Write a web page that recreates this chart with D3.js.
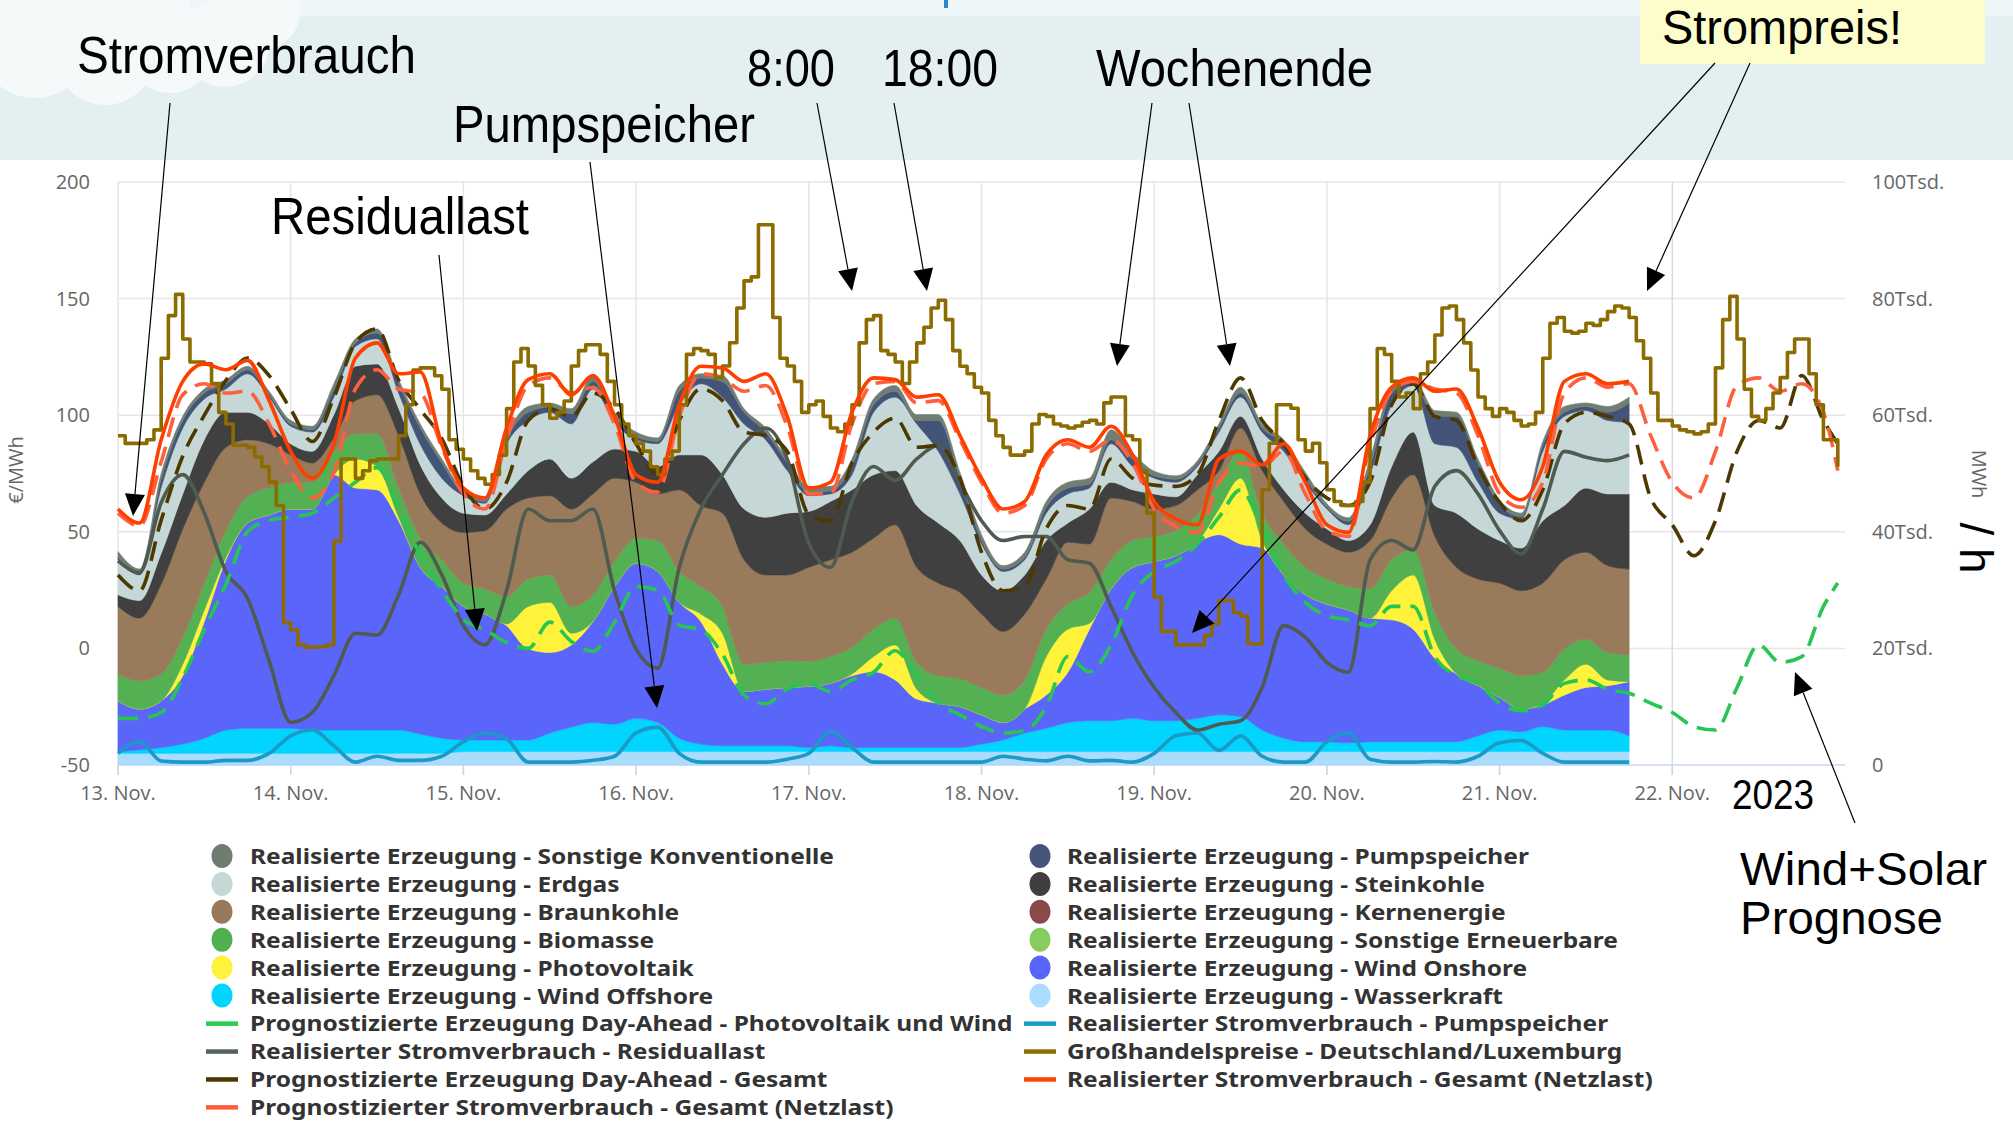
<!DOCTYPE html>
<html><head><meta charset="utf-8">
<script src="https://cdn.jsdelivr.net/npm/d3@7"></script>
<style>html,body{margin:0;padding:0;background:#fff}svg{display:block}</style>
</head><body>
<svg id="c" width="2013" height="1122"></svg>
<script>
// ---------------- DATA (GW = Tsd. MWh/h, price in €/MWh) ----------------
const dayLabels = ["13. Nov.","14. Nov.","15. Nov.","16. Nov.","17. Nov.","18. Nov.","19. Nov.","20. Nov.","21. Nov.","22. Nov."];
const leftTicks = [-50,0,50,100,150,200];
const rightTicks = [0,20,40,60,80,100];

// realised generation, every 3 h from 13 Nov 00:00 to 21 Nov 18:00
const wasserkraft = [2.0,2.0,2.0,2.0,2.0,2.0,2.0,2.0, 2.0,2.0,2.0,2.0,2.0,2.0,2.0,2.0, 2.3,2.3,2.3,2.3,2.3,2.3,2.3,2.3, 2.3,2.3,2.3,2.3,2.3,2.3,2.3,2.3, 2.3,2.3,2.3,2.3,2.3,2.3,2.3,2.3, 2.3,2.3,2.3,2.3,2.3,2.3,2.3,2.3, 2.3,2.3,2.3,2.3,2.3,2.3,2.3,2.3, 2.3,2.3,2.3,2.3,2.3,2.3,2.3,2.3, 2.3,2.3,2.3,2.3,2.3,2.3,2.3];
const windOffshore = [0.3,0.6,1.0,1.6,2.6,4.0,4.3,4.3, 4.3,4.0,4.0,4.0,4.0,4.0,3.3,2.6, 2.0,2.0,2.0,2.0,3.2,4.2,5.0,4.7, 5.7,5.0,2.3,1.3,1.0,1.0,1.0,1.0, 0.7,1.0,0.7,0.7,0.7,0.7,0.7,0.7, 1.3,2.0,3.2,4.0,5.0,5.3,5.3,5.7, 5.3,5.3,5.7,6.3,6.0,3.7,2.3,1.7, 1.7,1.5,1.7,1.7,1.7,1.7,1.7,2.7, 3.7,3.4,4.3,3.7,3.7,3.7,2.7];
const windOnshore = [8.7,7.0,8.0,11.7,20.0,29.2,35.2,36.6, 37.6,37.9,43.8,41.5,41.2,35.9,28.6,26.0, 22.9,21.6,19.6,15.6,13.8,14.1,17.3,23.6, 26.6,25.9,23.3,21.0,14.0,9.3,9.7,10.0, 10.5,10.7,12.3,13.0,11.6,8.3,7.6,7.0, 5.0,3.0,4.1,5.7,8.6,15.7,22.6,25.9, 27.3,28.3,30.2,30.9,29.6,31.2,28.0,25.2, 23.6,22.8,21.2,20.9,19.3,14.3,11.6,8.6, 5.6,3.9,3.7,6.0,7.3,7.6,9.3];
const photovoltaik = [0,0,0,2.0,2.0,0.4,0,0, 0,0,0,5.0,4.0,0.6,0,0, 0,0,0.3,7.3,8.6,2.0,0,0, 0,0,0,1.3,5.3,0,0,0, 0,0,0.3,2.6,6.0,1.7,0,0, 0,0,0,6.6,7.4,1.0,0,0, 0,0,0,4.4,11.3,1.3,0,0, 0,0,0,5.0,9.3,3.2,0,0, 0,0,0.3,2.6,4.0,1.0,0];
const biomasse = [4.6,4.8,4.6,4.6,4.6,4.6,4.6,4.6, 4.6,4.6,4.0,4.3,5.6,5.0,5.0,4.6, 4.0,4.3,4.7,4.7,4.7,4.6,4.6,4.3, 4.3,5.3,5.3,4.7,4.6,4.7,4.6,4.6, 4.3,4.6,4.6,4.7,4.6,4.6,4.7,4.8, 4.7,4.7,5.0,4.7,4.3,5.3,5.0,4.6, 4.3,4.3,4.7,4.6,4.6,4.7,5.3,4.7, 4.3,4.0,5.0,5.3,4.3,4.7,4.3,4.3, 5.0,5.7,5.3,5.3,4.3,4.7,4.6];
const braunkohle = [11.6,10.8,15.4,18.6,17.3,14.3,9.7,7.6, 4.7,3.3,2.3,5.7,6.7,9.0,7.6,6.3, 8.7,10.0,15.0,13.9,13.6,16.7,17.3,14.3, 9.6,8.0,14.0,13.9,16.0,17.9,15.0,14.7, 16.1,16.6,16.3,15.6,16.0,16.3,15.9,14.8, 12.6,10.9,11.3,8.6,10.6,8.3,10.6,6.7, 4.7,4.3,4.3,2.0,4.0,7.3,7.3,6.6, 6.0,5.9,8.3,10.6,12.9,13.0,14.0,14.0, 14.6,14.6,15.3,15.3,14.9,14.9,14.7];
const steinkohle = [2.0,3.0,5.3,6.0,7.3,6.0,4.7,3.4, 1.9,2.0,4.0,5.9,5.3,4.7,5.0,4.3, 3.3,2.7,2.6,4.7,6.3,5.3,5.5,5.0, 5.3,4.7,6.0,8.7,6.6,8.7,9.9,10.6, 9.6,10.0,10.7,10.9,9.3,10.6,10.3,8.9, 6.7,7.0,6.7,6.6,3.3,6.0,2.7,2.0, 2.6,1.5,2.6,3.3,2.0,2.0,2.0,2.7, 2.6,2.0,2.7,5.4,7.3,5.3,9.3,8.6, 7.3,7.3,10.7,9.3,11.0,12.3,12.9];
const erdgas = [6.0,4.4,11.3,11.3,7.0,4.0,6.6,4.6, 3.0,3.3,3.0,3.4,4.3,2.6,3.5,3.4, 3.0,2.0,8.6,8.6,8.0,9.3,12.5,4.6, 2.0,3.9,8.6,12.2,13.3,14.6,13.3,7.3, 2.7,1.3,2.6,10.7,12.6,14.0,12.3,8.0, 5.3,3.3,2.6,4.7,5.0,3.6,6.6,4.0, 2.7,2.5,1.4,3.3,3.3,4.6,6.6,5.3, 3.4,2.7,8.6,10.6,8.0,10.6,11.3,8.0, 4.7,5.0,11.9,15.3,13.3,12.6,12.3];
const pumpspeicher = [0.4,0.4,1.4,1.3,1.0,0.9,0.7,0.4, 0.4,0.4,1.3,0.6,1.0,1.6,2.8,2.6, 0.3,0.3,0.7,1.4,0.9,1.7,1.3,1.0, 0.5,0.4,2.3,1.0,2.7,2.0,1.3,1.3, 0.6,0.5,1.4,1.3,1.0,0.6,5.3,2.7, 0.6,0.4,0.4,1.0,1.0,0.7,0.7,1.3, 0.4,0.5,0.4,0.7,0.7,0.7,1.3,0.7, 0.3,0.6,1.4,2.0,0.7,4.7,5.3,3.3, 1.4,0.4,1.0,0.7,0.7,1.4,3.3];
const sonstigeKonv = [1.0,0.6,1.0,0.7,0.7,0.7,0.6,0.6, 0.6,0.6,1.0,0.7,0.7,0.7,0.7,0.7, 0.7,0.6,0.7,1.0,0.7,0.9,1.0,0.7, 0.8,0.6,1.0,0.7,1.0,0.6,0.7,0.7, 1.0,0.8,1.3,1.0,1.0,1.0,1.0,1.0, 1.0,0.6,0.9,1.0,1.0,1.0,1.7,1.0, 0.8,0.6,0.6,0.7,1.0,0.7,0.7,1.0, 0.6,0.6,1.3,1.0,0.6,1.0,0.7,0.7, 0.9,0.6,0.7,1.0,0.6,1.0,1.0];

// realised consumption lines (same 3 h grid)
const netzlastReal = [43.9,41.5,55.8,65.8,68.8,67.8,69.4,62.5, 53.8,49.2,55.1,69.8,72.4,67.1,67.4,55.0, 47.5,45.8,57.8,66.1,67.1,63.5,66.8,59.8, 49.8,48.5,61.8,68.4,68.1,65.8,67.1,59.8, 47.5,48.5,60.5,66.4,66.1,63.1,63.5,56.5, 49.2,43.9,45.2,53.2,55.8,54.5,58.1,53.2, 45.2,42.2,41.2,52.5,53.8,51.5,55.1,48.5, 41.2,39.9,56.5,64.8,66.4,64.1,64.5,57.8, 48.5,45.5,51.2,65.8,67.1,65.4,65.8];
const residuallast = [35.0,33.0,45.0,49.8,43.2,33.2,28.6,17.9, 7.3,9.0,15.3,22.6,22.3,29.2,38.2,32.6, 23.9,20.6,29.9,43.9,41.9,41.9,43.9,29.9, 19.9,16.6,33.9,43.9,49.8,55.1,57.8,52.5, 38.0,33.9,45.2,51.2,48.8,52.5,54.8,48.5, 41.9,38.5,39.2,39.2,35.2,34.6,27.2,19.3, 13.3,9.0,6.0,7.0,7.6,13.3,23.9,21.9, 17.6,15.9,35.2,38.5,36.9,47.8,50.5,46.5, 40.2,36.2,43.9,53.8,52.8,52.2,53.2];
const pumpVerbrauch = [2.0,4.0,0.7,0.5,0.5,0.8,0.8,2.0, 5.0,6.0,3.3,0.5,1.5,0.8,0.8,1.5, 4.0,5.5,4.5,0.5,0.5,0.5,0.8,1.5, 5.5,6.5,2.0,0.5,0.5,0.5,0.5,1.0, 2.0,5.8,3.0,0.5,0.5,0.5,0.5,0.5, 0.5,1.5,1.0,0.7,1.5,0.7,0.8,0.5, 2.0,5.0,5.5,2.5,5.0,1.5,0.5,0.5, 4.0,5.5,1.0,0.5,0.5,0.6,0.5,1.5, 3.8,4.2,2.0,0.5,0.5,0.5,0.5];

// day-ahead forecasts, every 3 h up to 22 Nov 21:00 plus 23:00
const netzlastPrognose = [43.2,41.0,52.0,63.5,65.4,63.8,64.1,58.5, 50.5,45.8,50.2,64.5,67.8,64.5,63.8,54.5, 46.5,43.9,55.8,65.1,66.4,63.8,64.8,58.5, 48.5,46.8,59.8,67.1,66.4,64.1,65.1,58.1, 46.5,46.5,58.5,65.4,65.8,62.1,62.5,55.8, 48.5,43.2,44.5,52.5,55.1,53.8,55.8,51.8, 43.9,40.9,39.9,48.5,51.8,51.2,53.8,46.5, 40.2,39.2,54.8,64.1,65.8,64.5,63.8,56.5, 46.5,44.2,48.5,63.8,66.4,64.8,65.4,56.5, 48.5,45.8,53.8,65.1,66.4,64.1,65.4,60.5, 50.5];
const erzeugungPrognose = [32.6,29.9,42.0,53.0,60.0,66.0,69.8,66.8, 61.0,55.5,63.0,72.4,74.8,66.0,61.0,56.0, 47.8,43.9,48.5,59.1,61.1,59.8,63.8,61.1, 55.1,49.8,59.1,64.5,62.5,57.1,56.5,53.8, 43.0,41.9,51.8,57.1,59.5,54.5,54.8,49.2, 36.5,29.9,30.6,40.5,44.5,43.9,52.5,49.2, 48.0,47.8,49.8,59.1,66.4,59.1,55.1,49.2, 45.8,44.5,48.5,61.8,65.4,59.8,59.1,51.2, 45.0,41.9,47.2,58.5,60.5,59.8,58.5,45.8, 41.2,35.9,41.9,53.8,59.1,57.8,66.8,59.1, 55.1];
const pvWindPrognose = [8.0,8.0,9.0,15.0,23.3,31.0,40.0,42.0, 42.5,43.2,45.8,48.5,51.0,44.0,36.0,30.0, 25.0,23.2,21.0,20.0,24.5,21.2,19.5,24.5, 30.6,30.0,24.0,23.2,19.0,12.0,10.5,13.0, 14.0,12.6,14.6,15.9,19.6,15.3,10.6,8.6, 6.6,5.5,5.9,10.0,18.6,16.0,20.6,29.2, 33.2,34.9,37.9,42.5,47.2,40.5,32.6,27.9, 25.6,24.9,23.9,27.2,27.2,18.6,15.3,14.0, 10.6,9.3,10.3,14.0,14.6,13.0,12.3,10.6, 9.0,6.6,6.0,13.3,20.6,17.6,18.6,27.2, 31.2];

// wholesale price DE/LU, hourly from 13 Nov 00:00 to 22 Nov 23:00
const preis = [
 91.2,87.9,87.9,87.9,89.5,93.7,124.4,142.7,151.8,132.7,122.8,122.8,122.0,113.6,101.2,96.2,87.1,87.1,86.2,82.1,77.9,71.3,61.3,11.0,
 8.0,1.5,0.5,0.5,0.8,1.5,46.0,81.2,81.2,72.9,76.2,80.4,81.2,81.2,81.2,91.2,104.5,119.4,120.3,120.3,116.9,111.1,89.5,85.4,
 81.2,76.2,72.9,70.4,74.6,82.9,102.8,122.8,128.6,121.1,112.8,104.5,98.7,101.2,106.1,121.1,127.7,130.2,130.2,126.1,114.5,104.5,96.2,91.2,
 87.9,84.6,77.9,74.6,81.2,84.6,104.5,126.1,128.6,127.7,126.1,116.1,121.1,131.1,146.0,157.6,159.3,181.7,181.7,141.9,124.4,121.1,114.5,101.2,
 104.5,106.1,99.5,94.5,92.9,96.2,104.5,131.0,141.0,142.7,127.7,126.1,122.8,113.6,122.8,131.0,137.7,146.0,149.3,141.0,127.7,121.0,117.8,112.0,
 109.5,97.8,91.2,86.2,82.9,82.9,84.6,96.2,100.3,99.5,96.2,95.4,94.5,95.4,97.0,97.8,96.2,105.3,107.8,107.8,91.2,89.5,76.2,58.0,
 22.0,7.3,7.3,1.5,1.5,1.5,1.5,5.6,10.6,20.5,20.5,15.4,13.8,2.0,2.0,68.0,88.0,104.5,104.5,103.0,89.5,84.6,88.0,79.6,
 68.0,63.0,61.3,61.3,63.0,71.3,102.8,128.6,126.0,114.5,107.8,109.5,102.8,117.8,122.8,134.4,146.0,146.8,141.0,131.0,119.4,107.8,102.8,99.5,
 102.8,101.2,97.8,95.4,96.2,101.2,124.4,139.4,141.9,136.0,135.2,136.0,139.4,138.5,141.0,144.4,146.8,146.0,141.9,131.9,124.4,109.5,97.8,97.8,
 95.4,93.7,92.9,92.0,92.9,96.2,120.3,141.0,151.0,132.7,111.1,99.5,97.8,102.8,109.5,116.1,126.9,132.7,132.7,117.8,104.5,89.5,89.5,77.9
];

const hoursStack = d3.range(0, 211, 3);
const hoursForecast = d3.range(0, 238, 3).concat([239]);
const hoursPrice = d3.range(0, 240);

// ---------------- SETUP ----------------
const svg = d3.select("#c");
const W = 2013, H = 1122;
const x = d3.scaleLinear().domain([0, 240]).range([118, 1845]);
const yL = d3.scaleLinear().domain([-50, 200]).range([765, 182]);
const yR = d3.scaleLinear().domain([0, 100]).range([765, 182]);
const tickFont = "'Open Sans', 'DejaVu Sans', sans-serif";
const noteFont = "'Liberation Sans Narrow', 'Liberation Sans', Arial, sans-serif";

// background
svg.append("rect").attr("width", W).attr("height", H).attr("fill", "#ffffff");
svg.append("rect").attr("width", W).attr("height", 160).attr("fill", "#e4eff1");
svg.append("rect").attr("width", W).attr("height", 16).attr("fill", "#eef6f7");
const cloud = svg.append("g").attr("fill", "#f6f9fa");
[[35,40,58],[105,55,50],[170,48,45],[225,42,45],[262,12,38],[130,5,60],[10,10,40]].forEach(c =>
  cloud.append("circle").attr("cx", c[0]).attr("cy", c[1]).attr("r", c[2]));
svg.append("rect").attr("x", 944).attr("y", 0).attr("width", 4).attr("height", 8).attr("fill", "#2a86c8");

// grid
const grid = svg.append("g");
leftTicks.forEach(v => {
  if (v === -50) return;
  grid.append("line").attr("x1", 118).attr("x2", 1845).attr("y1", yL(v)).attr("y2", yL(v))
    .attr("stroke", "#e6e6e6").attr("stroke-width", 1.5);
});
dayLabels.forEach((d, i) => {
  grid.append("line").attr("x1", x(i * 24)).attr("x2", x(i * 24)).attr("y1", 182).attr("y2", 775)
    .attr("stroke", i === 9 ? "#d6dcec" : "#e6e6e6").attr("stroke-width", 1.5);
});
grid.append("line").attr("x1", 118).attr("x2", 1845).attr("y1", 765).attr("y2", 765)
  .attr("stroke", "#ccd6eb").attr("stroke-width", 1.5);

// stacked areas
const keys = ["wasserkraft","windOffshore","windOnshore","photovoltaik","biomasse","braunkohle","steinkohle","erdgas","pumpspeicher","sonstigeKonv"];
const series = {wasserkraft, windOffshore, windOnshore, photovoltaik, biomasse, braunkohle, steinkohle, erdgas, pumpspeicher, sonstigeKonv};
const colors = {
  wasserkraft: "#aadcfd", windOffshore: "#00d4ff", windOnshore: "#5a65f9", photovoltaik: "#fff23a",
  biomasse: "#53b153", braunkohle: "#997a5b", steinkohle: "#404040", erdgas: "#c5d8d7",
  pumpspeicher: "#435479", sonstigeKonv: "#717e72"
};
const table = hoursStack.map((h, i) => {
  const row = {h};
  keys.forEach(k => row[k] = series[k][i]);
  return row;
});
const stacked = d3.stack().keys(keys)(table);
const area = d3.area().x(d => x(d.data.h)).y0(d => yR(d[0])).y1(d => yR(d[1])).curve(d3.curveMonotoneX);
svg.append("g").selectAll("path").data(stacked).join("path")
  .attr("d", area).attr("fill", d => colors[d.key]).attr("stroke", d => colors[d.key]).attr("stroke-width", 0.6);

// lines
function drawLine(hours, vals, scale, color, dash, curve, width) {
  const ln = d3.line().x((d, i) => x(hours[i])).y(d => scale(d)).curve(curve || d3.curveMonotoneX);
  svg.append("path").datum(vals).attr("d", ln).attr("fill", "none").attr("stroke", color)
    .attr("stroke-width", width || 3.6).attr("stroke-dasharray", dash || null)
    .attr("stroke-linejoin", "round");
}
drawLine(hoursStack, pumpVerbrauch, yR, "#1b9ac7");
drawLine(hoursStack, residuallast, yR, "#4f5b51");
drawLine(hoursForecast, pvWindPrognose, yR, "#28c552", "20,10");
drawLine(hoursForecast, erzeugungPrognose, yR, "#4d3800", "20,10");
drawLine(hoursForecast, netzlastPrognose, yR, "#ff5f3e", "20,10");
drawLine(hoursPrice, preis, yL, "#8c6c00", null, d3.curveStepAfter, 3.6);
drawLine(hoursStack, netzlastReal, yR, "#ff3f00");

// axes labels
const ax = svg.append("g").attr("font-family", tickFont).attr("font-size", 20).attr("fill", "#666");
leftTicks.forEach(v => ax.append("text").attr("x", 90).attr("y", yL(v) + 7).attr("text-anchor", "end").text(v));
rightTicks.forEach(v => ax.append("text").attr("x", 1872).attr("y", yR(v) + 7).attr("text-anchor", "start").text(v === 0 ? "0" : v + "Tsd."));
dayLabels.forEach((d, i) => {
  ax.append("text").attr("x", x(i * 24)).attr("y", 800).attr("text-anchor", "middle").text(d);
  svg.append("line").attr("x1", x(i * 24)).attr("x2", x(i * 24)).attr("y1", 765).attr("y2", 775)
    .attr("stroke", "#ccd6eb").attr("stroke-width", 1.5);
});
ax.append("text").attr("transform", "translate(23,470) rotate(-90)").attr("text-anchor", "middle").text("€/MWh");
ax.append("text").attr("transform", "translate(1972,474) rotate(90)").attr("text-anchor", "middle").text("MWh");
svg.append("text").attr("transform", "translate(1960,548) rotate(90)").attr("text-anchor", "middle")
  .attr("font-family", noteFont).attr("font-size", 46).attr("fill", "#000").text("/ h");

// annotations
svg.append("rect").attr("x", 1640).attr("y", 0).attr("width", 345).attr("height", 64).attr("fill", "#fdfdcb");
const notes = [
  ["Stromverbrauch", 77, 73, 339, 52], ["8:00", 747, 86, 88, 52], ["18:00", 882, 86, 116, 52],
  ["Wochenende", 1096, 86, 277, 52], ["Pumpspeicher", 453, 142, 302, 52], ["Residuallast", 271, 234, 258, 52],
  ["Strompreis!", 1662, 44, 240, 49], ["2023", 1732, 809, 82, 42], ["Wind+Solar", 1740, 885, 247, 47],
  ["Prognose", 1740, 934, 203, 47]
];
notes.forEach(n => svg.append("text").attr("x", n[1]).attr("y", n[2]).attr("font-family", noteFont)
  .attr("font-size", n[4]).attr("fill", "#000").attr("textLength", n[3]).attr("lengthAdjust", "spacingAndGlyphs").text(n[0]));

const arrows = [[170,103,133,516],[439,255,477,631],[590,162,657,708],[817,103,852,291],[894,103,927,291],
  [1152,103,1117,366],[1189,103,1230,366],[1715,63,1192,633],[1750,63,1647,291],[1855,823,1795,672]];
arrows.forEach(a => {
  const [x1, y1, x2, y2] = a;
  const dx = x2 - x1, dy = y2 - y1, L = Math.hypot(dx, dy), ux = dx / L, uy = dy / L;
  const hl = 22, hw = 10;
  const bx = x2 - ux * hl, by = y2 - uy * hl;
  svg.append("line").attr("x1", x1).attr("y1", y1).attr("x2", bx).attr("y2", by).attr("stroke", "#000").attr("stroke-width", 1.2);
  svg.append("path").attr("d", `M${x2},${y2}L${bx - uy * hw},${by + ux * hw}L${bx + uy * hw},${by - ux * hw}Z`).attr("fill", "#000");
});

// legend
const legend1 = [
  ["Realisierte Erzeugung - Sonstige Konventionelle", "#6f7c70", "c"],
  ["Realisierte Erzeugung - Erdgas", "#c5d8d6", "c"],
  ["Realisierte Erzeugung - Braunkohle", "#98795b", "c"],
  ["Realisierte Erzeugung - Biomasse", "#4fb04f", "c"],
  ["Realisierte Erzeugung - Photovoltaik", "#fff23a", "c"],
  ["Realisierte Erzeugung - Wind Offshore", "#00d4ff", "c"],
  ["Prognostizierte Erzeugung Day-Ahead - Photovoltaik und Wind", "#2bcc4f", "l"],
  ["Realisierter Stromverbrauch - Residuallast", "#56625a", "l"],
  ["Prognostizierte Erzeugung Day-Ahead - Gesamt", "#4a3800", "l"],
  ["Prognostizierter Stromverbrauch - Gesamt (Netzlast)", "#ff5c3a", "l"]
];
const legend2 = [
  ["Realisierte Erzeugung - Pumpspeicher", "#445577", "c"],
  ["Realisierte Erzeugung - Steinkohle", "#3f3f3f", "c"],
  ["Realisierte Erzeugung - Kernenergie", "#8a4a4a", "c"],
  ["Realisierte Erzeugung - Sonstige Erneuerbare", "#87cc5c", "c"],
  ["Realisierte Erzeugung - Wind Onshore", "#5865f9", "c"],
  ["Realisierte Erzeugung - Wasserkraft", "#a8ddff", "c"],
  ["Realisierter Stromverbrauch - Pumpspeicher", "#1a9ac8", "l"],
  ["Großhandelspreise - Deutschland/Luxemburg", "#8f7000", "l"],
  ["Realisierter Stromverbrauch - Gesamt (Netzlast)", "#ff4500", "l"]
];
const lg = svg.append("g");
const legTexts = [];
function drawLegend(items, mx, tx) {
  items.forEach((it, i) => {
    const cy = 856 + i * 27.9;
    if (it[2] === "c") lg.append("ellipse").attr("cx", mx).attr("cy", cy).attr("rx", 10.5).attr("ry", 12).attr("fill", it[1]);
    else lg.append("rect").attr("x", mx - 16).attr("y", cy - 2).attr("width", 32).attr("height", 4.5).attr("fill", it[1]);
    const t = lg.append("text").attr("x", tx).attr("y", cy + 8).attr("font-family", "'Noto Sans', 'Open Sans', sans-serif")
      .attr("font-weight", 700).attr("font-size", 21).attr("fill", "#333").text(it[0]);
    legTexts.push(t);
  });
}
drawLegend(legend1, 222, 250);
drawLegend(legend2, 1040, 1067);
const ref = legTexts[0].node().getComputedTextLength();
const k = 584 / ref;
legTexts.forEach(t => {
  const w = t.node().getComputedTextLength();
  t.attr("textLength", w * k).attr("lengthAdjust", "spacingAndGlyphs");
});
</script>
</body></html>
